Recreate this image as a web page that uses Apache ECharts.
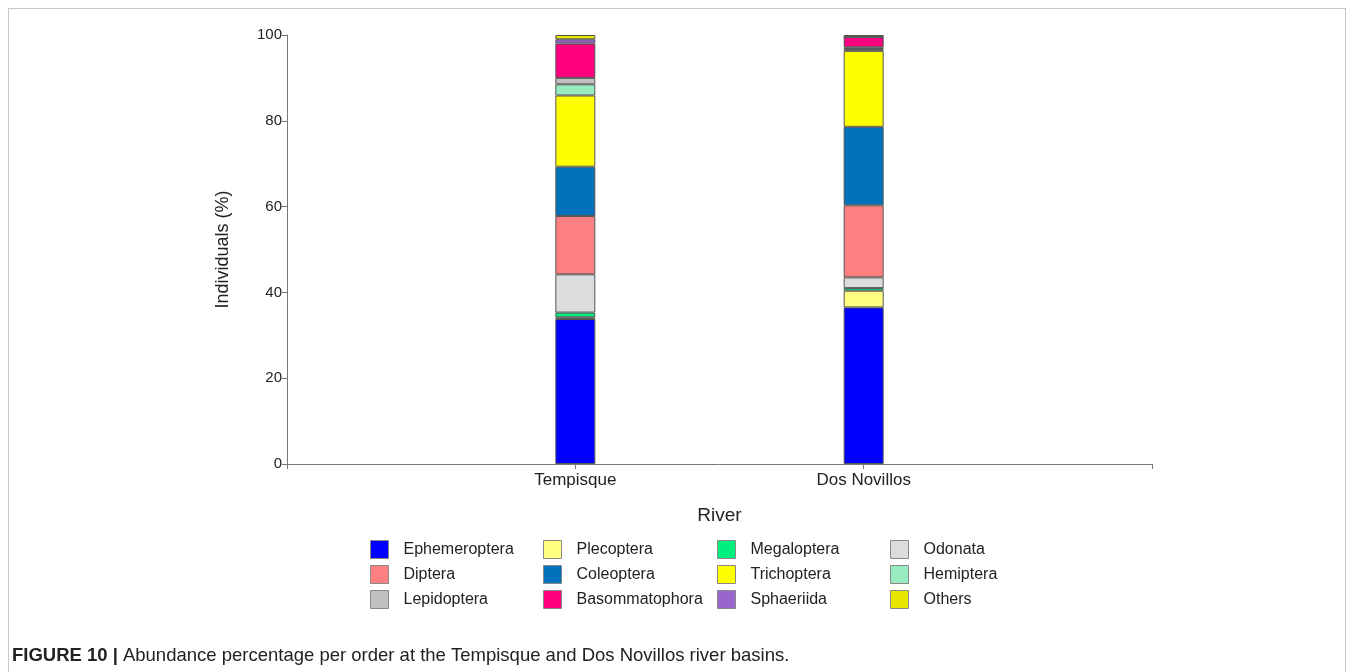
<!DOCTYPE html>
<html>
<head>
<meta charset="utf-8">
<script src="https://cdn.jsdelivr.net/npm/echarts@6/dist/echarts.min.js"></script>
<style>
html,body{margin:0;padding:0;background:#fff;}
#frame{position:absolute;left:8px;top:8px;width:1338px;height:700px;border:1px solid #c8c8c8;box-sizing:border-box;}
#chart{position:absolute;left:0;top:0;width:1355px;height:672px;}
</style>
</head>
<body>
<div id="frame"></div>
<div id="chart"></div>
<script>
const rivers = ['Tempisque', 'Dos Novillos'];
const orders = ['Ephemeroptera','Plecoptera','Megaloptera','Odonata','Diptera','Coleoptera','Trichoptera','Hemiptera','Lepidoptera','Basommatophora','Sphaeriida','Others'];
const colors = ['#0000FF','#FFFF80','#00F080','#DCDCDC','#FF8080','#0072BC','#FFFF00','#99EBC0','#C0C0C0','#FF0080','#9966CC','#E6E600'];
// percentages per order: [Tempisque, Dos Novillos]
const Ephemeroptera = [33.8, 36.5];
const Plecoptera = [0.4, 3.9];
const Megaloptera = [1.1, 0.6];
const Odonata = [8.9, 2.5];
const Diptera = [13.6, 16.8];
const Coleoptera = [11.5, 18.3];
const Trichoptera = [16.6, 17.7];
const Hemiptera = [2.6, 0.45];
const Lepidoptera = [1.5, 0.4];
const Basommatophora = [8.0, 2.4];
const Sphaeriida = [1.0, 0.0];
const Others = [1.0, 0.45];
const values = [Ephemeroptera, Plecoptera, Megaloptera, Odonata, Diptera, Coleoptera, Trichoptera, Hemiptera, Lepidoptera, Basommatophora, Sphaeriida, Others];
const yTicks = [0, 20, 40, 60, 80, 100];

const FONT = 'Liberation Sans, Arial, sans-serif';
const axisCats = [''].concat(rivers).concat(['']);
const series = orders.map((name, i) => ({
  name: name,
  type: 'bar',
  stack: 'total',
  barWidth: 40,
  itemStyle: { color: colors[i], borderColor: '#555', borderWidth: 1 },
  data: [null].concat(values[i]).concat([null])
}));

const legendCols = [[0,4,8],[1,5,9],[2,6,10],[3,7,11]];
const legendLeft = [370, 543, 717, 890];
const legends = legendCols.map((col, k) => ({
  orient: 'vertical',
  left: legendLeft[k],
  top: 540,
  padding: 0,
  itemWidth: 18,
  itemHeight: 18,
  itemGap: 6,
  icon: 'rect',
  selectedMode: false,
  itemStyle: { borderColor: '#888', borderWidth: 1 },
  textStyle: { fontSize: 16, lineHeight: 18, color: '#222', fontFamily: FONT, padding: [0,0,0,10] },
  data: col.map(j => orders[j])
}));

const chart = echarts.init(document.getElementById('chart'));
chart.setOption({
  animation: false,
  title: {
    left: 12,
    top: 646,
    padding: 0,
    text: '{b|FIGURE 10 |} {n|Abundance percentage per order at the Tempisque and Dos Novillos river basins.}',
    textStyle: {
      fontWeight: 'normal',
      rich: {
        b: { fontWeight: 'bold', fontSize: 18.5, color: '#222', fontFamily: FONT },
        n: { fontWeight: 'normal', fontSize: 18.5, color: '#222', fontFamily: FONT }
      }
    }
  },
  legend: legends,
  grid: { left: 287, right: 203, top: 35, bottom: 208, containLabel: false },
  xAxis: {
    type: 'category',
    data: axisCats,
    boundaryGap: false,
    name: 'River',
    nameLocation: 'middle',
    nameGap: 42,
    nameTextStyle: { fontSize: 19, color: '#222', fontFamily: FONT },
    axisLine: { lineStyle: { color: '#777', width: 1 } },
    axisTick: { show: true, length: 5, lineStyle: { color: '#777' } },
    axisLabel: { fontSize: 17, color: '#222', margin: 8, fontFamily: FONT },
    splitLine: { show: false }
  },
  yAxis: {
    type: 'value',
    min: 0,
    max: 100,
    interval: 20,
    name: 'Individuals (%)',
    nameLocation: 'middle',
    nameGap: 55,
    nameRotate: 90,
    nameTextStyle: { fontSize: 18, color: '#222', fontFamily: FONT },
    axisLine: { show: true, lineStyle: { color: '#777', width: 1 } },
    axisTick: { show: true, length: 5, lineStyle: { color: '#777' } },
    axisLabel: { fontSize: 15, color: '#222', margin: 5, fontFamily: FONT,
      formatter: v => yTicks.includes(v) ? String(v) : '' },
    splitLine: { show: false }
  },
  series: series
});
</script>
</body>
</html>
